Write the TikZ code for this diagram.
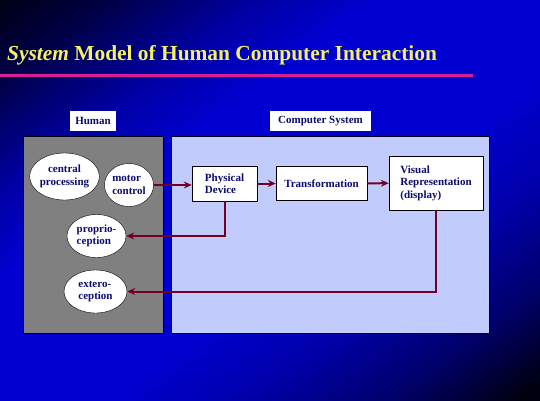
\documentclass[tikz,border=0pt]{standalone}
\usepackage{fontspec}
\setmainfont{Liberation Serif}
\usepackage{xcolor}
\usetikzlibrary{arrows.meta,positioning,calc,shapes.geometric}

\definecolor{bgdark}{RGB}{0,0,20}
\definecolor{titleyellow}{RGB}{245,240,100}
\definecolor{rulepink}{RGB}{214,30,150}
\definecolor{humangray}{RGB}{128,128,128}
\definecolor{compblue}{RGB}{194,204,252}
\definecolor{inknavy}{RGB}{12,12,110}
\definecolor{flowred}{RGB}{115,0,35}

\tikzset{
  lbl/.style={fill=white, draw=none},
  organ/.style={ellipse, draw=black, fill=white, inner sep=0pt},
  unit/.style={rectangle, draw=black, fill=white, inner sep=0pt},
  flow/.style={draw=flowred, line width=2pt, -{Stealth[length=8pt,width=7pt]}},
}

\begin{document}
\begin{tikzpicture}[x=1pt, y=-1pt, every node/.style={align=left, text=inknavy, font=\bfseries\fontsize{11}{12.5}\selectfont}]
		\useasboundingbox (0,0) rectangle (540,400);

		% slide background: diagonal bands, dark in two corners
		\begin{scope}
			\clip (0,0) rectangle (540,400);
			\foreach \k in {0,...,99} {
				\pgfmathsetmacro\tb{\k/100}
				\pgfmathsetmacro\tm{\tb+0.005}
				\pgfmathtruncatemacro\blue{20 + 500*\tm + 166.7*max(\tm-0.1,0) - 286.7*max(\tm-0.25,0) - 380*max(\tm-0.35,0) - 292.3*max(\tm-0.6,0) - 187.7*max(\tm-0.73,0) - 253.3*max(\tm-0.855,0) - 66.7*max(\tm-0.93,0)}
				\pgfmathtruncatemacro\blue{max(\blue,12)}
				\fill[fill={rgb,255:red,0;green,0;blue,\blue}] ({1080*\tb},0) -- (2000,0) -- (2000,2000) -- (0,2000) -- (0,{800*\tb}) -- cycle;
			}
		\end{scope}

		% title and rule
		\node[anchor=base west, text=titleyellow, font=\bfseries\fontsize{21.4}{25}\selectfont, inner sep=0pt] (title) at (7,60) {\textit{System} Model of Human Computer Interaction};
		\draw[rulepink, line width=3pt] (0,75) -- (473,75);

		% the two sides
		\draw[fill=humangray, draw=bgdark, line width=0.8pt] (23,136) rectangle (163,333);
		\draw[fill=compblue, draw=bgdark, line width=0.8pt] (171,136) rectangle (489,333);
		\node[lbl, minimum width=46, minimum height=20] (humanlbl) at (93,121) {Human};
		\node[lbl, minimum width=101, minimum height=20] (complbl) at (320.5,121) {Computer System};

		% human side
		\node[organ, minimum width=69, minimum height=47, align=center] (central) at (64.5,176.5) {central\\processing};
		\node[organ, minimum width=49, minimum height=43] (motor) at (129,185) {motor\\control};
		\node[organ, minimum width=59, minimum height=43] (proprio) at (96.5,236) {proprio-\\ception};
		\node[organ, minimum width=63, minimum height=43] (extero) at (95.5,291.5) {extero-\\ception};

		% computer side
		\node[unit, minimum width=65, minimum height=35] (physical) at (224.5,183.5) {Physical\\Device};
		\node[unit, minimum width=91, minimum height=34] (transform) at (321.5,183.5) {Transformation};
		\node[unit, minimum width=94, minimum height=54] (visual) at (436,183) {Visual\\Representation\\(display)};

		\draw[flow] (motor.east) -- (motor.east -| physical.west);
		\draw[flow] (physical) -- (transform);
		\draw[flow] (transform) -- (visual);
		\draw[flow] (physical.south) |- (proprio.east);
		\draw[flow] (visual.south) |- (extero.east);
	\end{tikzpicture}
\end{document}
